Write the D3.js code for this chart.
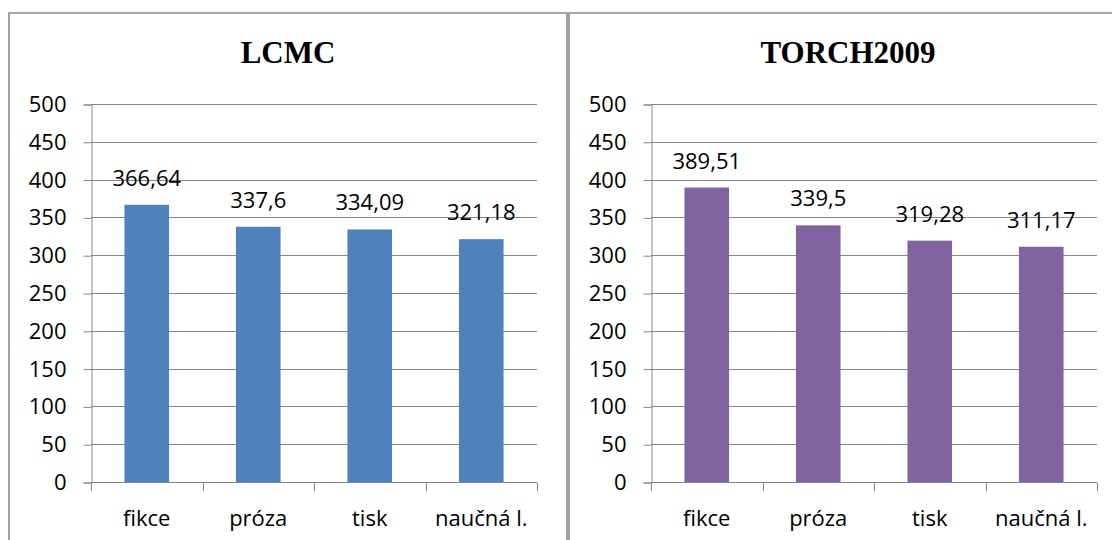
<!DOCTYPE html>
<html>
<head>
<meta charset="utf-8">
<script src="https://cdn.jsdelivr.net/npm/d3@7/dist/d3.min.js"></script>
<style>
  html, body { margin: 0; padding: 0; background: #ffffff; }
  svg { display: block; }
</style>
</head>
<body>
<svg id="chart" width="1112" height="540"></svg>
<script>
// Category labels shared by both panels
const categories = ["fikce", "próza", "tisk", "naučná l."];
// Values per corpus
const lcmcValues = [366.64, 337.6, 334.09, 321.18];
const torchValues = [389.51, 339.5, 319.28, 311.17];
// Displayed value labels (Czech decimal comma)
const lcmcLabels = ["366,64", "337,6", "334,09", "321,18"];
const torchLabels = ["389,51", "339,5", "319,28", "311,17"];
// Y axis tick values
const yTicks = [0, 50, 100, 150, 200, 250, 300, 350, 400, 450, 500];

const panels = [
  { title: "LCMC", values: lcmcValues, labels: lcmcLabels, color: "#4F81BD", x0: 9 },
  { title: "TORCH2009", values: torchValues, labels: torchLabels, color: "#8064A2", x0: 569 }
];

const svg = d3.select("#chart");
const panelW = 558, panelTop = 13;
const plotLeft = 82, plotW = 446;
const plotTop = 104, plotBottom = 482;
const gridColor = "#878787";
const font = "'Open Sans', sans-serif";

const y = d3.scaleLinear().domain([0, 500]).range([plotBottom, plotTop]);

panels.forEach(p => {
  const g = svg.append("g").attr("transform", `translate(${p.x0},0)`);

  // panel frame (extends past the bottom edge)
  g.append("path")
    .attr("d", `M0,${540 + 5}V${panelTop}H${panelW}V${540 + 5}`)
    .attr("fill", "none")
    .attr("stroke", "#8a8a8a")
    .attr("stroke-width", 1.6);

  g.append("text")
    .attr("x", panelW / 2)
    .attr("y", 63)
    .attr("text-anchor", "middle")
    .attr("font-family", "'Liberation Serif', 'Times New Roman', serif")
    .attr("font-weight", "bold")
    .attr("font-size", 31)
    .attr("fill", "#000")
    .text(p.title);

  const x = d3.scaleBand()
    .domain(categories)
    .range([plotLeft, plotLeft + plotW])
    .paddingInner(0.6)
    .paddingOuter(0.3);

  // horizontal gridlines
  g.append("g").selectAll("line")
    .data(yTicks.filter(t => t > 0))
    .join("line")
    .attr("x1", plotLeft).attr("x2", plotLeft + plotW)
    .attr("y1", d => Math.round(y(d)) + 0.5)
    .attr("y2", d => Math.round(y(d)) + 0.5)
    .attr("stroke", gridColor)
    .attr("stroke-width", 1);

  // y axis
  const yAxis = d3.axisLeft(y).tickValues(yTicks).tickSize(8).tickPadding(17).tickFormat(d3.format("d"));
  const ya = g.append("g")
    .attr("transform", `translate(${plotLeft + 0.5},0.5)`)
    .call(yAxis);
  ya.select(".domain").attr("stroke", gridColor);
  ya.selectAll(".tick line").attr("stroke", gridColor);
  ya.selectAll(".tick text")
    .attr("font-family", font)
    .attr("font-size", 22)
    .attr("fill", "#000");

  // bars
  g.append("g").selectAll("rect")
    .data(p.values)
    .join("rect")
    .attr("x", (d, i) => x(categories[i]))
    .attr("width", x.bandwidth())
    .attr("y", d => y(d))
    .attr("height", d => y(0) - y(d))
    .attr("fill", p.color);

  // value labels above bars
  g.append("g").selectAll("text")
    .data(p.values)
    .join("text")
    .attr("x", (d, i) => x(categories[i]) + x.bandwidth() / 2)
    .attr("y", d => y(d) - 19)
    .attr("text-anchor", "middle")
    .attr("font-family", font)
    .attr("font-size", 22)
    .attr("fill", "#000")
    .text((d, i) => p.labels[i]);

  // x axis baseline and category boundary ticks
  const step = x.step();
  const bounds = d3.range(categories.length + 1).map(i => plotLeft + i * step);
  g.append("line")
    .attr("x1", plotLeft).attr("x2", plotLeft + plotW)
    .attr("y1", Math.round(y(0)) + 0.5).attr("y2", Math.round(y(0)) + 0.5)
    .attr("stroke", gridColor);
  g.append("g").selectAll("line")
    .data(bounds)
    .join("line")
    .attr("x1", d => Math.round(d) + 0.5).attr("x2", d => Math.round(d) + 0.5)
    .attr("y1", Math.round(y(0)) + 0.5).attr("y2", Math.round(y(0)) + 9)
    .attr("stroke", gridColor);

  // category labels
  g.append("g").selectAll("text")
    .data(categories)
    .join("text")
    .attr("x", d => x(d) + x.bandwidth() / 2)
    .attr("y", 526)
    .attr("text-anchor", "middle")
    .attr("font-family", font)
    .attr("font-size", 22)
    .attr("fill", "#000")
    .text(d => d);
});
</script>
</body>
</html>
